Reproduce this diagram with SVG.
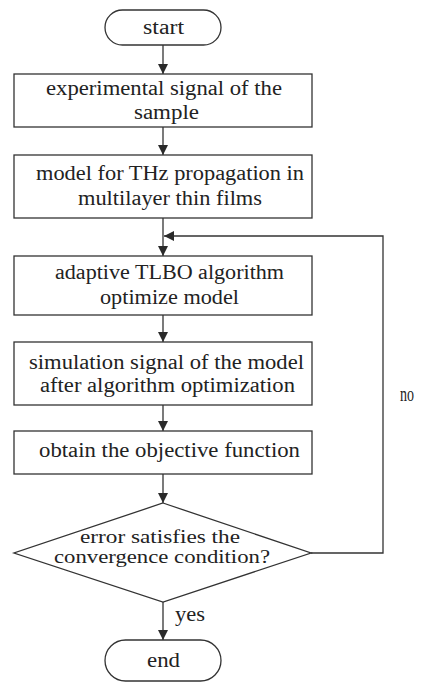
<svg xmlns="http://www.w3.org/2000/svg" width="425" height="682" viewBox="0 0 425 682">
<defs>
<style>
.n{fill:#fff;stroke:#333;stroke-width:1.3}
.c{fill:none;stroke:#333;stroke-width:1.3}
.t{font-family:'Liberation Serif','Times New Roman',serif;font-size:20px;fill:#222}
.s{font-size:18px}
</style>
<marker id="ah" viewBox="0 0 10 10" refX="10" refY="5" markerWidth="10" markerHeight="11" markerUnits="userSpaceOnUse" orient="auto">
<path d="M0,0 L10,5 L0,10 Z" fill="#2a2a2a"/>
</marker>
</defs>
<rect width="425" height="682" fill="#fff"/>
<g id="connectors">
<line class="c" x1="163" y1="45" x2="163" y2="74" marker-end="url(#ah)"/>
<line class="c" x1="163" y1="127" x2="163" y2="155" marker-end="url(#ah)"/>
<line class="c" x1="163" y1="218" x2="163" y2="256" marker-end="url(#ah)"/>
<line class="c" x1="163" y1="315" x2="163" y2="342" marker-end="url(#ah)"/>
<line class="c" x1="163" y1="405" x2="163" y2="431" marker-end="url(#ah)"/>
<line class="c" x1="163" y1="474" x2="163" y2="503" marker-end="url(#ah)"/>
<line class="c" x1="163" y1="602" x2="163" y2="640" marker-end="url(#ah)"/>
<polyline class="c" points="311,553 383,553 383,236 164,236" marker-end="url(#ah)"/>
<text class="t" x="175" y="621" textLength="30" lengthAdjust="spacingAndGlyphs">yes</text>
<text class="t" x="400" y="401" textLength="14" lengthAdjust="spacingAndGlyphs">no</text>
</g>
<g id="start">
<rect class="n" x="105" y="10" width="116" height="35" rx="17.5"/>
<text class="t" x="143" y="34" textLength="41" lengthAdjust="spacingAndGlyphs">start</text>
</g>
<g id="box1">
<rect class="n" x="14" y="74" width="298" height="53"/>
<text class="t" x="46" y="95" textLength="236" lengthAdjust="spacingAndGlyphs">experimental signal of the</text>
<text class="t" x="134" y="119" textLength="65" lengthAdjust="spacingAndGlyphs">sample</text>
</g>
<g id="box2">
<rect class="n" x="14" y="155" width="298" height="63"/>
<text class="t" x="36" y="180" textLength="268" lengthAdjust="spacingAndGlyphs">model for THz propagation in</text>
<text class="t" x="78" y="205" textLength="184" lengthAdjust="spacingAndGlyphs">multilayer thin films</text>
</g>
<g id="box3">
<rect class="n" x="14" y="256" width="298" height="59"/>
<text class="t" x="55" y="279" textLength="229" lengthAdjust="spacingAndGlyphs">adaptive TLBO algorithm</text>
<text class="t" x="100" y="304" textLength="139" lengthAdjust="spacingAndGlyphs">optimize model</text>
</g>
<g id="box4">
<rect class="n" x="14" y="342" width="298" height="63"/>
<text class="t" x="29" y="369" textLength="275" lengthAdjust="spacingAndGlyphs">simulation signal of the model</text>
<text class="t" x="40" y="392" textLength="255" lengthAdjust="spacingAndGlyphs">after algorithm optimization</text>
</g>
<g id="box5">
<rect class="n" x="14" y="431" width="298" height="43"/>
<text class="t" x="39" y="457" textLength="261" lengthAdjust="spacingAndGlyphs">obtain the objective function</text>
</g>
<g id="decision">
<polygon class="n" points="163,503 311,553 163,602 14,553"/>
<text class="t s" x="80" y="543" textLength="160" lengthAdjust="spacingAndGlyphs">error satisfies the</text>
<text class="t s" x="54" y="563" textLength="216" lengthAdjust="spacingAndGlyphs">convergence condition?</text>
</g>
<g id="end">
<rect class="n" x="105" y="640" width="116" height="41" rx="20.5"/>
<text class="t" x="147" y="667" textLength="33" lengthAdjust="spacingAndGlyphs">end</text>
</g>
</svg>
